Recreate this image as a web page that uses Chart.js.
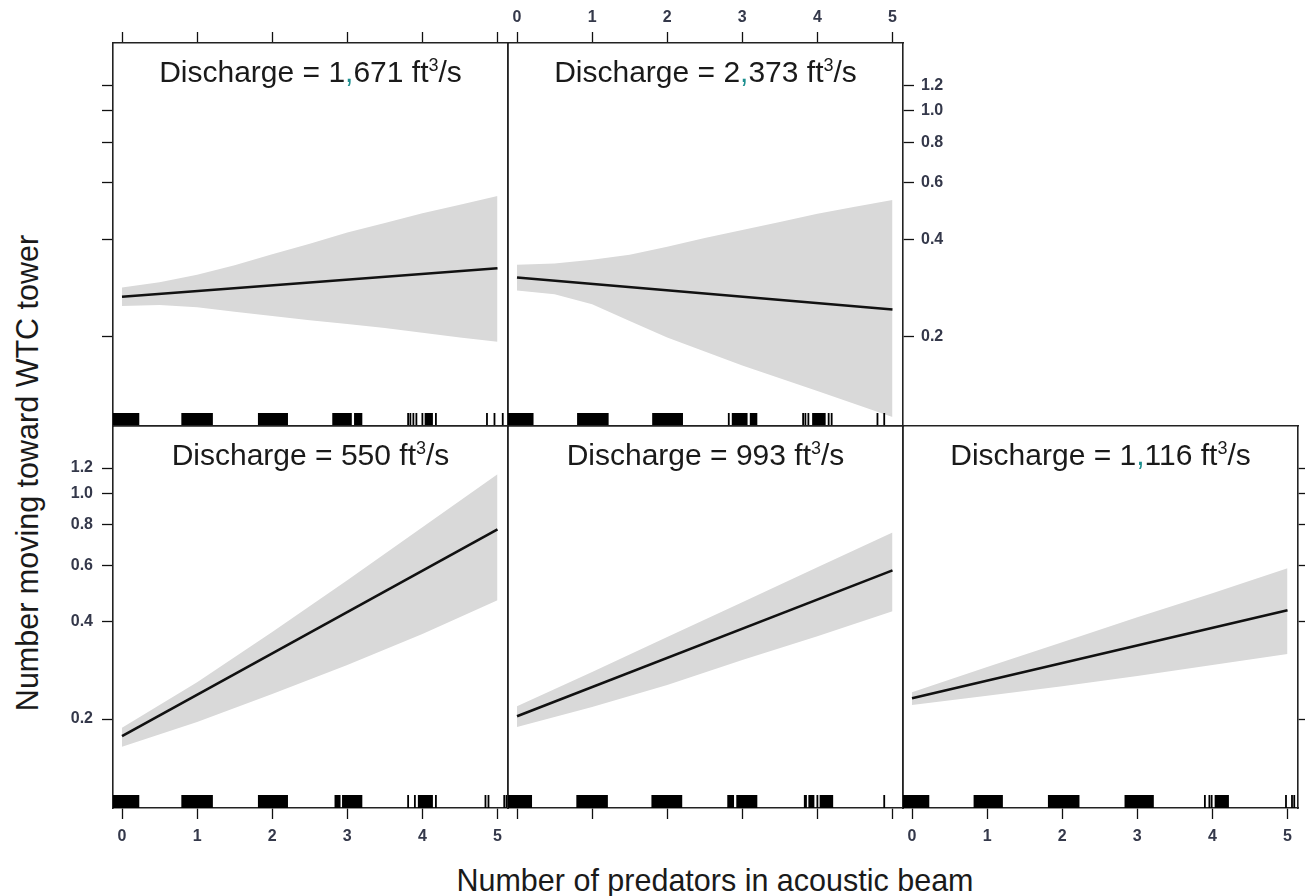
<!DOCTYPE html>
<html><head><meta charset="utf-8">
<script src="https://cdn.jsdelivr.net/npm/chart.js@4.4.1/dist/chart.umd.min.js"></script>
<style>
html,body{margin:0;padding:0;background:#fff;}
#wrap{position:relative;width:1305px;height:896px;overflow:hidden;font-family:"Liberation Sans",Arial,sans-serif;}
#wrap canvas{position:absolute;}
.t{position:absolute;white-space:nowrap;color:#1a1a1a;font-size:30.5px;line-height:34px;height:34px;}
#xt{left:715px;top:863px;transform:translateX(-50%);}
#yt{left:27px;top:473px;transform:translate(-50%,-50%) rotate(-90deg);}
</style></head><body>
<div id="wrap">
<div class="t" id="xt">Number of predators in acoustic beam</div>
<div class="t" id="yt">Number moving toward WTC tower</div>
</div>
<script>
// ---------- DATA ----------
const discharge = ['1,671', '2,373', '550', '993', '1,116'];
const xTicks = [0, 1, 2, 3, 4, 5];
const yTicks = [0.2, 0.4, 0.6, 0.8, 1.0, 1.2];
const fitX = [0, 5];
const fit1671 = [0.266, 0.326];
const fit2373 = [0.305, 0.243];
const fit550  = [0.177, 0.775];
const fit993  = [0.204, 0.578];
const fit1116 = [0.232, 0.435];
const bandXTop = [0, 0.5, 1, 1.5, 2, 2.5, 3, 3.5, 4, 4.5, 5];
const upper1671 = [0.284, 0.295, 0.311, 0.333, 0.360, 0.388, 0.420, 0.450, 0.482, 0.512, 0.545];
const lower1671 = [0.249, 0.251, 0.247, 0.239, 0.232, 0.225, 0.219, 0.213, 0.206, 0.199, 0.193];
const upper2373 = [0.334, 0.337, 0.346, 0.359, 0.380, 0.404, 0.428, 0.453, 0.480, 0.505, 0.530];
const lower2373 = [0.278, 0.271, 0.252, 0.224, 0.199, 0.180, 0.163, 0.149, 0.136, 0.124, 0.113];
const bandXBottom = [0, 1, 2, 3, 4, 5];
const upper550  = [0.188, 0.260, 0.372, 0.539, 0.786, 1.147];
const lower550  = [0.164, 0.196, 0.239, 0.294, 0.367, 0.467];
const upper993  = [0.219, 0.280, 0.359, 0.460, 0.591, 0.758];
const lower993  = [0.189, 0.218, 0.255, 0.305, 0.361, 0.432];
const upper1116 = [0.242, 0.290, 0.346, 0.414, 0.491, 0.587];
const lower1116 = [0.221, 0.236, 0.253, 0.272, 0.294, 0.318];
// rug: number = single observation line, [a,b] = dense run of observations
const rug1671 = [[-0.12,0.23],[0.79,1.21],[1.81,2.21],[2.80,3.06],[3.09,3.20],3.81,3.84,3.88,3.92,4.00,[4.03,4.14],4.18,4.86,4.96,5.07];
const rug2373 = [[-0.12,0.22],[0.80,1.22],[1.80,2.21],2.82,[2.86,3.07],[3.10,3.20],3.81,3.84,3.88,[3.93,4.11],4.15,4.19,4.80,4.89];
const rug550  = [[-0.12,0.23],[0.79,1.21],[1.81,2.21],[2.83,2.91],[2.93,3.20],3.81,3.90,[3.94,4.14],4.18,4.84,4.88,5.09,5.12];
const rug993  = [[-0.12,0.20],[0.79,1.21],[1.79,2.20],[2.80,2.89],[2.92,3.20],[3.82,3.86],[3.88,3.96],4.00,[4.03,4.21],4.89];
const rug1116 = [[-0.12,0.23],[0.82,1.21],[1.81,2.23],[2.83,3.22],3.90,3.96,3.99,[4.03,4.22],4.98,5.06,5.09];

// ---------- LAYOUT ----------
const X_MIN = -0.12, X_MAX = 5.14, Y_MIN = 0.106, Y_MAX = 1.62;
const M = {left: 60, right: 60, top: 45, bottom: 45};
const FONT = '"Liberation Sans", Arial, sans-serif';
const TICK_FONT = {family: FONT, size: 16, weight: 'bold'};
const TICK_COLOR = '#34384a';

const panels = [
  {label: discharge[0], fit: fit1671, bx: bandXTop, up: upper1671, lo: lower1671, rug: rug1671,
   box: [113, 43, 508, 426], axes: {top: 1, bottom: 0, left: 1, right: 0}},
  {label: discharge[1], fit: fit2373, bx: bandXTop, up: upper2373, lo: lower2373, rug: rug2373,
   box: [508, 43, 903, 426], axes: {top: 2, bottom: 0, left: 0, right: 2}},
  {label: discharge[2], fit: fit550, bx: bandXBottom, up: upper550, lo: lower550, rug: rug550,
   box: [113, 426, 508, 808], axes: {top: 0, bottom: 2, left: 2, right: 0}},
  {label: discharge[3], fit: fit993, bx: bandXBottom, up: upper993, lo: lower993, rug: rug993,
   box: [508, 426, 903, 808], axes: {top: 0, bottom: 1, left: 0, right: 0}},
  {label: discharge[4], fit: fit1116, bx: bandXBottom, up: upper1116, lo: lower1116, rug: rug1116,
   box: [903, 426, 1298, 808], axes: {top: 0, bottom: 2, left: 0, right: 1}}
];

function gridOpts(mode) {
  return {display: true, drawOnChartArea: false, drawTicks: mode > 0, tickLength: 11,
          tickWidth: 1.3, tickColor: '#111', color: '#111'};
}
const borderOpts = {display: true, color: '#222', width: 1.6};

function xAxis(pos, mode) {
  return {
    type: 'linear', position: pos, min: X_MIN, max: X_MAX,
    afterBuildTicks: s => { s.ticks = xTicks.map(v => ({value: v})); },
    afterFit: s => { s.height = pos === 'top' ? M.top : M.bottom; },
    grid: gridOpts(mode), border: borderOpts,
    ticks: {display: mode === 2, padding: pos === 'top' ? 5 : 8, font: TICK_FONT, color: TICK_COLOR,
            maxRotation: 0, autoSkip: false, callback: v => String(v)}
  };
}
function yAxis(pos, mode) {
  return {
    type: 'logarithmic', position: pos, min: Y_MIN, max: Y_MAX,
    afterBuildTicks: s => { s.ticks = yTicks.map(v => ({value: v})); },
    afterFit: s => { s.width = pos === 'left' ? M.left : M.right; },
    grid: gridOpts(mode), border: borderOpts,
    ticks: {display: mode === 2, padding: pos === 'left' ? 9 : 7, font: TICK_FONT, color: TICK_COLOR,
            autoSkip: false, callback: v => Number(v).toFixed(1)}
  };
}

function rugPlugin(rug) {
  return {
    id: 'rug',
    afterDatasetsDraw(chart) {
      const ctx = chart.ctx, ca = chart.chartArea, xs = chart.scales.x;
      const h = 13;
      ctx.save();
      ctx.beginPath(); ctx.rect(ca.left, ca.top, ca.right - ca.left, ca.bottom - ca.top); ctx.clip();
      ctx.fillStyle = '#000';
      rug.forEach(r => {
        if (Array.isArray(r)) {
          const a = xs.getPixelForValue(r[0]), b = xs.getPixelForValue(r[1]);
          ctx.fillRect(a, ca.bottom - h, b - a, h);
        } else {
          const p = xs.getPixelForValue(r);
          ctx.fillRect(p - 0.9, ca.bottom - h, 1.8, h);
        }
      });
      ctx.restore();
    }
  };
}

function stripPlugin(label) {
  return {
    id: 'strip',
    afterDraw(chart) {
      const ctx = chart.ctx, ca = chart.chartArea;
      const main = '30px ' + FONT, sup = '18px ' + FONT;
      const ci = label.indexOf(',');
      const parts = [];
      if (ci >= 0) {
        parts.push({t: 'Discharge = ' + label.slice(0, ci), f: main, c: '#1a1a1a', dy: 0});
        parts.push({t: ',', f: main, c: '#1d8f8f', dy: 0});
        parts.push({t: label.slice(ci + 1) + ' ft', f: main, c: '#1a1a1a', dy: 0});
      } else {
        parts.push({t: 'Discharge = ' + label + ' ft', f: main, c: '#1a1a1a', dy: 0});
      }
      parts.push({t: '3', f: sup, c: '#1a1a1a', dy: -11});
      parts.push({t: '/s', f: main, c: '#1a1a1a', dy: 0});
      ctx.save();
      let total = 0;
      parts.forEach(p => { ctx.font = p.f; p.w = ctx.measureText(p.t).width; total += p.w; });
      let x = (ca.left + ca.right) / 2 - total / 2;
      const y = ca.top + 39;
      ctx.textBaseline = 'alphabetic'; ctx.textAlign = 'left';
      parts.forEach(p => { ctx.font = p.f; ctx.fillStyle = p.c; ctx.fillText(p.t, x, y + p.dy); x += p.w; });
      ctx.restore();
    }
  };
}

const wrap = document.getElementById('wrap');
panels.forEach(p => {
  const [L, T, R, B] = p.box;
  const cv = document.createElement('canvas');
  const w = R - L + M.left + M.right, h = B - T + M.top + M.bottom;
  cv.width = w; cv.height = h;
  cv.style.width = w + 'px'; cv.style.height = h + 'px';
  cv.style.left = (L - M.left) + 'px'; cv.style.top = (T - M.top) + 'px';
  wrap.appendChild(cv);
  new Chart(cv, {
    type: 'line',
    data: {
      datasets: [
        {label: 'fit', data: fitX.map((x, i) => ({x, y: p.fit[i]})), borderColor: '#111', borderWidth: 2.6,
         pointRadius: 0, fill: false, tension: 0},
        {label: 'upper', data: p.bx.map((x, i) => ({x, y: p.up[i]})), borderWidth: 0, borderColor: 'rgba(0,0,0,0)',
         pointRadius: 0, fill: false, tension: 0},
        {label: 'lower', data: p.bx.map((x, i) => ({x, y: p.lo[i]})), borderWidth: 0, borderColor: 'rgba(0,0,0,0)',
         pointRadius: 0, fill: '-1', backgroundColor: '#d9d9d9', tension: 0}
      ]
    },
    options: {
      responsive: false, animation: false, events: [],
      layout: {padding: 0, autoPadding: false},
      plugins: {legend: {display: false}, tooltip: {enabled: false}, title: {display: false}},
      scales: {
        x: xAxis('bottom', p.axes.bottom),
        x2: xAxis('top', p.axes.top),
        y: yAxis('left', p.axes.left),
        y2: yAxis('right', p.axes.right)
      }
    },
    plugins: [rugPlugin(p.rug), stripPlugin(p.label)]
  });
});
</script>
</body></html>
